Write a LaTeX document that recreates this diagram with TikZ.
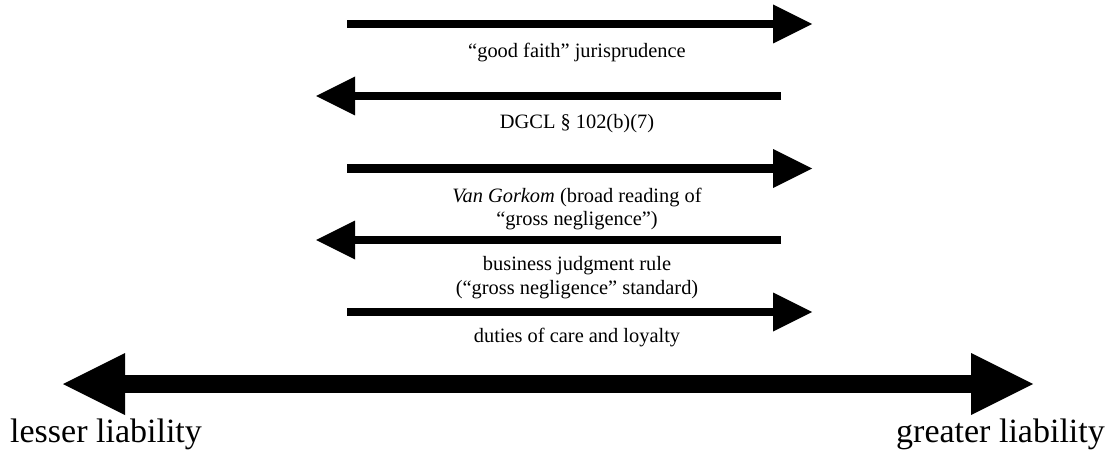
\documentclass[tikz,border=0pt]{standalone}
\usepackage{fontspec}
\setmainfont{Liberation Serif}
\usetikzlibrary{arrows.meta}
\begin{document}
\begin{tikzpicture}[x=1pt,y=1pt,
  thinarrow/.style={line width=8.5pt,-{Triangle[length=39pt,width=39pt,line width=0pt]}},
  bigarrow/.style={line width=18pt,{Triangle[length=62pt,width=62pt,line width=0pt]}-{Triangle[length=62pt,width=62pt,line width=0pt]}},
  smalllabel/.style={font=\fontsize{20.4}{23}\selectfont,inner sep=0pt,anchor=base},
  biglabel/.style={font=\fontsize{34}{38}\selectfont,inner sep=0pt}]
\useasboundingbox (0,0) rectangle (1115,456);
% arrows
\coordinate (a1s) at (347,432); \coordinate (a1e) at (812,432);
\coordinate (a2s) at (781,360); \coordinate (a2e) at (316,360);
\coordinate (a3s) at (347,287.5); \coordinate (a3e) at (812,287.5);
\coordinate (a4s) at (781,216); \coordinate (a4e) at (316,216);
\coordinate (a5s) at (347,144); \coordinate (a5e) at (812,144);
\coordinate (bl) at (63,72); \coordinate (br) at (1033,72);
\draw[thinarrow] (a1s) -- (a1e);
\draw[thinarrow] (a2s) -- (a2e);
\draw[thinarrow] (a3s) -- (a3e);
\draw[thinarrow] (a4s) -- (a4e);
\draw[thinarrow] (a5s) -- (a5e);
\draw[bigarrow] (bl) -- (br);
% labels
\node[smalllabel] (t1) at (577,398) {“good faith” jurisprudence};
\node[smalllabel] (t2) at (577,327) {DGCL § 102(b)(7)};
\node[smalllabel] (t3a) at (577,254) {\textit{Van Gorkom} (broad reading of};
\node[smalllabel] (t3b) at (577,231) {“gross negligence”)};
\node[smalllabel] (t4a) at (577,186) {business judgment rule};
\node[smalllabel] (t4b) at (577,162) {(“gross negligence” standard)};
\node[smalllabel] (t5) at (577,114) {duties of care and loyalty};
\node[biglabel,anchor=base west] (lo) at (10,14) {lesser liability};
\node[biglabel,anchor=base east] (hi) at (1105,14) {greater liability};
\end{tikzpicture}
\end{document}
